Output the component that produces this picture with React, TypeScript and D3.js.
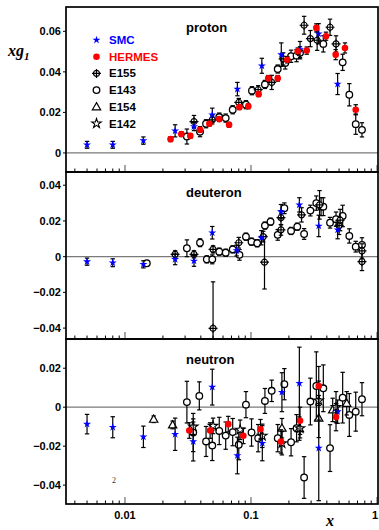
import React from "react";
import * as d3 from "d3";

type P = [number, number, number];

// ---------- proton ----------
const protonSMC: P[] = [[0.005,0.004,0.0017],[0.008,0.004,0.0017],[0.014,0.0061,0.0018],[0.025,0.0109,0.003],[0.0353,0.013,0.002],[0.0493,0.0188,0.0033],[0.078,0.0315,0.0033],[0.122,0.043,0.0037],[0.174,0.0485,0.0058],[0.245,0.051,0.004],[0.344,0.0588,0.005],[0.487,0.034,0.0052]];
const protonHERMES: P[] = [[0.023,0.0068,0.0012],[0.028,0.0093,0.0012],[0.033,0.0084,0.0012],[0.0394,0.0114,0.0012],[0.0467,0.0144,0.0012],[0.056,0.0167,0.0012],[0.067,0.0139,0.0012],[0.081,0.0226,0.0012],[0.0952,0.023,0.0012],[0.115,0.029,0.0012],[0.137,0.0368,0.0014],[0.163,0.0368,0.0014],[0.194,0.046,0.0016],[0.235,0.0502,0.0016],[0.277,0.0505,0.0018],[0.33,0.0617,0.002],[0.394,0.0576,0.002],[0.47,0.0485,0.0025],[0.557,0.0518,0.0025],[0.678,0.0213,0.0025]];
const protonE155: P[] = [[0.0353,0.0155,0.003],[0.0493,0.0163,0.002],[0.08,0.0249,0.002],[0.114,0.0312,0.002],[0.146,0.0348,0.0035],[0.18,0.0464,0.003],[0.264,0.063,0.0044],[0.296,0.0564,0.004],[0.335,0.0556,0.005],[0.424,0.062,0.004],[0.473,0.0538,0.004]];
const protonE143: P[] = [[0.031,0.0081,0.0037],[0.0394,0.0105,0.0025],[0.044,0.0144,0.002],[0.056,0.0177,0.002],[0.063,0.0172,0.002],[0.0716,0.0213,0.002],[0.0912,0.0238,0.002],[0.1018,0.0307,0.002],[0.129,0.0338,0.002],[0.163,0.0414,0.002],[0.187,0.0444,0.003],[0.208,0.0477,0.003],[0.23,0.048,0.003],[0.245,0.0494,0.003],[0.375,0.0538,0.004],[0.534,0.0447,0.004],[0.603,0.0287,0.0055],[0.678,0.0142,0.005],[0.76,0.0114,0.0035]];

// ---------- deuteron ----------
const deuteronSMC: P[] = [[0.005,-0.0028,0.002],[0.008,-0.0034,0.0022],[0.014,-0.0043,0.002],[0.025,-0.0015,0.003],[0.0353,-0.0024,0.003],[0.0493,0.0134,0.0035],[0.077,0.0034,0.003],[0.121,0.0106,0.004],[0.173,0.0252,0.004],[0.242,0.029,0.004],[0.345,0.0172,0.006],[0.487,0.015,0.005]];
const deuteronE155: P[] = [[0.025,0.0013,0.002],[0.0353,0.0013,0.002],[0.05,0.0041,0.002],[0.05,-0.0401,0.026],[0.08,0.0078,0.003],[0.125,0.0112,0.003],[0.128,-0.0031,0.015],[0.173,0.015,0.003],[0.173,0.0218,0.004],[0.252,0.0234,0.004],[0.35,0.029,0.008],[0.5,0.0174,0.005],[0.51,0.0205,0.006],[0.76,0.0032,0.004],[0.76,-0.0028,0.005]];
const deuteronE143: P[] = [[0.0149,-0.0037,0.0015],[0.031,0.0047,0.0047],[0.0394,0.0078,0.0022],[0.0446,-0.0015,0.002],[0.0493,-0.0015,0.0025],[0.056,0.0028,0.002],[0.063,0.0022,0.002],[0.0716,0.0041,0.002],[0.081,0.001,0.003],[0.0912,0.0112,0.002],[0.101,0.0084,0.002],[0.112,0.0075,0.002],[0.129,0.0174,0.002],[0.143,0.0196,0.002],[0.163,0.0122,0.003],[0.184,0.0271,0.003],[0.208,0.0144,0.002],[0.233,0.0168,0.002],[0.264,0.0127,0.003],[0.296,0.0258,0.003],[0.33,0.03,0.004],[0.36,0.028,0.005],[0.375,0.028,0.005],[0.424,0.019,0.003],[0.473,0.021,0.004],[0.534,0.0228,0.006],[0.603,0.0116,0.004],[0.678,0.0056,0.003],[0.76,0.0066,0.004]];

// ---------- neutron ----------
const neutronSMC: P[] = [[0.005,-0.0087,0.005],[0.008,-0.0103,0.0054],[0.014,-0.0152,0.0055],[0.025,-0.0139,0.0083],[0.0348,-0.0176,0.01],[0.0493,0.0103,0.0092],[0.078,-0.0248,0.0094],[0.123,-0.0185,0.009],[0.176,0.0077,0.01],[0.242,0.0123,0.0185],[0.345,-0.021,0.027],[0.487,-0.0023,0.006]];
const neutronHERMES: P[] = [[0.0324,-0.012,0.004],[0.0474,-0.012,0.004],[0.066,-0.0087,0.004],[0.087,-0.0147,0.004],[0.119,-0.0113,0.005],[0.173,-0.0176,0.006],[0.245,-0.007,0.007],[0.345,0.0109,0.01],[0.473,-0.0051,0.007]];
const neutronE154: P[] = [[0.0169,-0.0062,0.0017],[0.0239,-0.0091,0.002],[0.176,-0.0108,0.005],[0.242,-0.011,0.006],[0.345,-0.0056,0.01],[0.445,-0.0014,0.006],[0.575,0.002,0.006]];
const neutronE142: P[] = [[0.0348,-0.01,0.004],[0.05,-0.0096,0.004],[0.082,-0.0116,0.005],[0.123,-0.0147,0.006],[0.176,-0.0185,0.006],[0.245,-0.0108,0.005],[0.345,0.0034,0.01],[0.473,0,0.008]];
const neutronE143: P[] = [[0.031,0.0026,0.0107],[0.0389,0.0058,0.0072],[0.0348,-0.013,0.0098],[0.044,-0.0176,0.0077],[0.0493,-0.0197,0.0077],[0.056,-0.0122,0.007],[0.063,-0.0146,0.007],[0.0716,-0.0128,0.007],[0.08,-0.0193,0.0077],[0.0912,0.0013,0.0067],[0.101,-0.013,0.007],[0.114,-0.0159,0.007],[0.129,0.0032,0.0064],[0.146,0.0084,0.0055],[0.163,-0.0159,0.007],[0.184,0.0118,0.008],[0.208,-0.018,0.007],[0.23,-0.0108,0.007],[0.264,-0.0361,0.0107],[0.296,0.0029,0.012],[0.33,0.0109,0.0175],[0.375,0.0097,0.012],[0.424,-0.021,0.012],[0.534,0.0049,0.013],[0.603,-0.004,0.011],[0.678,-0.0023,0.01],[0.76,0.0041,0.0085]];

const legendNames = ["SMC", "HERMES", "E155", "E143", "E154", "E142"];
const legendColors = ["#0000ff", "#ff0000", "#000", "#000", "#000", "#000"];
const panelNames = ["proton", "deuteron", "neutron"];
const xTickLabels = [0.01, 0.1, 1];
const yTicksTop = [0, 0.02, 0.04, 0.06];
const yTicksMid = [-0.04, -0.02, 0, 0.02, 0.04];
const yTicksBot = [-0.04, -0.02, 0, 0.02];

const FONT = "'Liberation Sans', Arial, Helvetica, sans-serif";
const SERIF = "'Liberation Serif', 'Times New Roman', serif";
const L = 66, R = 378;

const x = d3.scaleLog().domain([0.003404, 1.0185]).range([L, R]);

type Kind = "SMC" | "HERMES" | "E155" | "E143" | "E154" | "E142";

function Marker({ kind, cx, cy }: { kind: Kind; cx: number; cy: number }) {
  const t = `translate(${cx},${cy})`;
  if (kind === "SMC")
    return <path transform={t} d={d3.symbol(d3.symbolStar, 20)()!} fill="#0000ff" />;
  if (kind === "HERMES") return <circle cx={cx} cy={cy} r={3.3} fill="#ff0000" />;
  if (kind === "E143")
    return <circle cx={cx} cy={cy} r={3.3} fill="#fff" stroke="#000" strokeWidth={1.3} />;
  if (kind === "E155")
    return (
      <g transform={t}>
        <circle r={3} fill="#fff" stroke="#000" strokeWidth={1.2} />
        <path d="M-4.5,0H4.5M0,-4.5V4.5" stroke="#000" strokeWidth={1.2} />
      </g>
    );
  if (kind === "E154")
    return <path transform={`translate(${cx},${cy + 0.6})`} d={d3.symbol(d3.symbolTriangle, 30)()!} fill="#fff" stroke="#000" strokeWidth={1.2} />;
  return <path transform={t} d={d3.symbol(d3.symbolStar, 28)()!} fill="#fff" stroke="#000" strokeWidth={1.1} />;
}

function Series({ data, kind, y }: { data: P[]; kind: Kind; y: d3.ScaleLinear<number, number> }) {
  return (
    <g>
      {data.map((d, i) => {
        const cx = x(d[0]);
        const y1 = y(d[1] + d[2]);
        const y2 = y(d[1] - d[2]);
        return (
          <g key={"e" + i} stroke="#000" strokeWidth={1.2}>
            <line x1={cx} x2={cx} y1={y1} y2={y2} />
            <line x1={cx - 2.2} x2={cx + 2.2} y1={y1} y2={y1} />
            <line x1={cx - 2.2} x2={cx + 2.2} y1={y2} y2={y2} />
          </g>
        );
      })}
      {data.map((d, i) => (
        <Marker key={"m" + i} kind={kind} cx={x(d[0])} cy={y(d[1])} />
      ))}
    </g>
  );
}

function minorTicks(): number[] {
  const out: number[] = [];
  for (const dec of [0.001, 0.01, 0.1]) for (let k = 1; k <= 9; k++) out.push(dec * k);
  out.push(1);
  return out.filter((v) => v >= 0.0035 && v <= 1.0001);
}

function Panel({ top, bottom, domain, ticks, name, series, id }: any) {
  const y = d3.scaleLinear().domain(domain).range([bottom, top]);
  const mt = minorTicks();
  return (
    <g>
      <defs>
        <clipPath id={id}>
          <rect x={L} y={top} width={R - L} height={bottom - top} />
        </clipPath>
      </defs>
      <line x1={L} x2={R} y1={y(0)} y2={y(0)} stroke="#7a7a7a" strokeWidth={1.3} />
      <g clipPath={`url(#${id})`}>
        {series.map((s: any, i: number) => (
          <Series key={i} data={s.data} kind={s.kind} y={y} />
        ))}
      </g>
      {mt.map((v, i) => {
        const major = Math.abs(Math.log10(v) - Math.round(Math.log10(v))) < 1e-6;
        return (
          <line key={i} x1={x(v)} x2={x(v)} y1={bottom} y2={bottom - (major ? 7 : 3.5)}
            stroke={major ? "#777" : "#000"} strokeWidth={major ? 1.3 : 1} />
        );
      })}
      {ticks.map((t: number, i: number) => (
        <g key={i}>
          <line x1={L - 3} x2={L} y1={y(t)} y2={y(t)} stroke="#000" strokeWidth={1} />
          <text x={L - 5} y={y(t) + 4} textAnchor="end" fontFamily={FONT} fontWeight="bold" fontSize={11}>
            {t === 0 ? "0" : d3.format(".2f")(t)}
          </text>
        </g>
      ))}
      <text x={186} y={top + 25} fontFamily={FONT} fontWeight="bold" fontSize={13}>{name}</text>
      <rect x={L} y={top} width={R - L} height={bottom - top} fill="none" stroke="#000" strokeWidth={1.7} />
    </g>
  );
}

export default function App() {
  const legendKinds: Kind[] = ["SMC", "HERMES", "E155", "E143", "E154", "E142"];
  return (
    <svg width={379} height={530} style={{ position: "absolute", left: 0, top: 0, background: "#fff" }}>
      <rect width={379} height={530} fill="#fff" />
      <Panel id="cp" top={7} bottom={172} domain={[-0.0094, 0.072]} ticks={yTicksTop} name={panelNames[0]}
        series={[{ data: protonE143, kind: "E143" }, { data: protonE155, kind: "E155" }, { data: protonSMC, kind: "SMC" }, { data: protonHERMES, kind: "HERMES" }]} />
      <Panel id="cd" top={172} bottom={339} domain={[-0.0461, 0.0474]} ticks={yTicksMid} name={panelNames[1]}
        series={[{ data: deuteronE143, kind: "E143" }, { data: deuteronE155, kind: "E155" }, { data: deuteronSMC, kind: "SMC" }]} />
      <Panel id="cn" top={339} bottom={504} domain={[-0.0497, 0.035]} ticks={yTicksBot} name={panelNames[2]}
        series={[{ data: neutronE143, kind: "E143" }, { data: neutronE154, kind: "E154" }, { data: neutronE142, kind: "E142" }, { data: neutronSMC, kind: "SMC" }, { data: neutronHERMES, kind: "HERMES" }]} />
      {legendNames.map((n, i) => (
        <g key={n}>
          <Marker kind={legendKinds[i]} cx={96.5} cy={40 + i * 16.7} />
          <text x={109} y={44 + i * 16.7} fill={legendColors[i]} fontFamily={FONT} fontWeight="bold" fontSize={11.5}>{n}</text>
        </g>
      ))}
      {xTickLabels.map((v, i) => (
        <text key={i} x={x(v) - (v === 1 ? 2 : 0)} y={519} textAnchor="middle" fontFamily={FONT} fontWeight="bold" fontSize={11}>
          {String(v)}
        </text>
      ))}
      <text x={326} y={526} fontFamily={SERIF} fontStyle="italic" fontWeight="bold" fontSize={16}>x</text>
      <text x={8} y={56} fontFamily={SERIF} fontStyle="italic" fontWeight="bold" fontSize={16}>
        xg<tspan fontSize={11} dy={4}>1</tspan>
      </text>
      <text x={112} y={483} fill="#333" fontFamily={SERIF} fontSize={8}>2</text>
    </svg>
  );
}
